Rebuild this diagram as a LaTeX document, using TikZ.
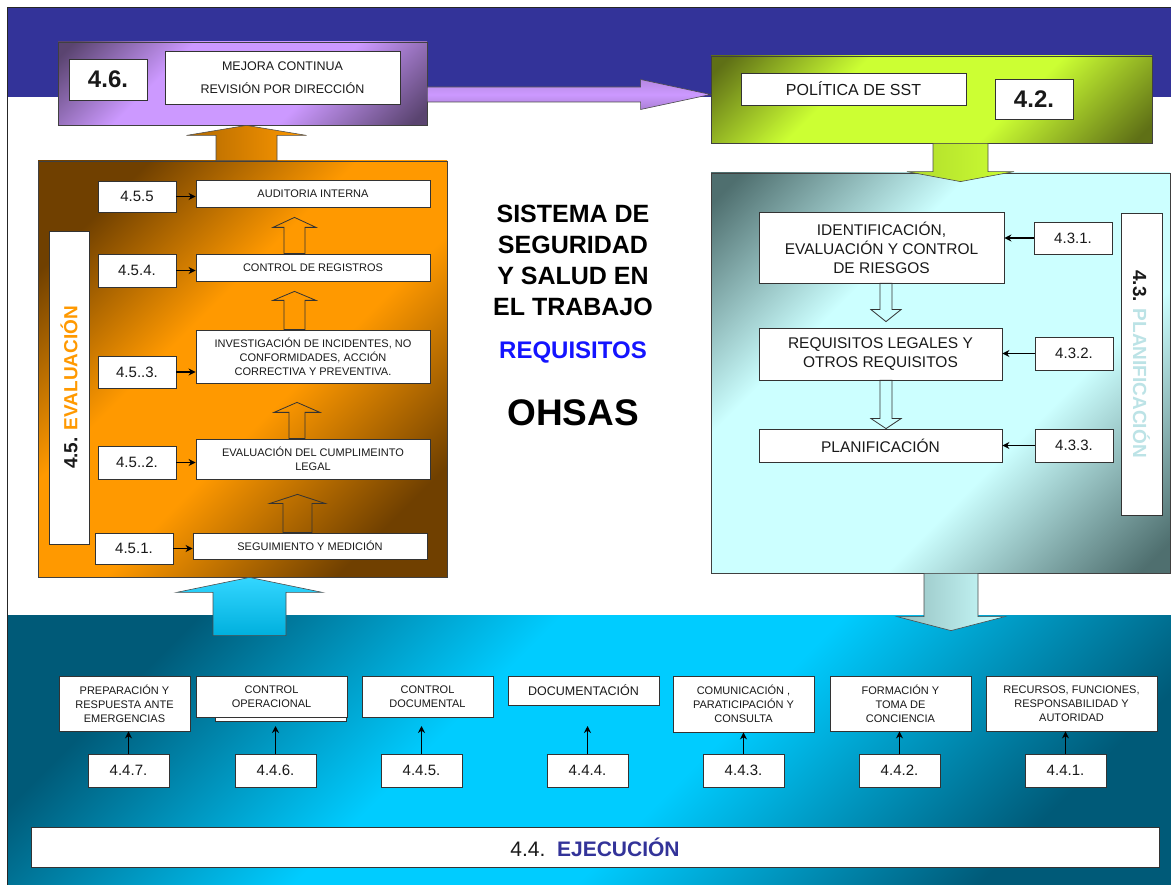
\documentclass[tikz,border=0pt]{standalone}
\usepackage{fontspec}
\setmainfont{Liberation Sans}
\usetikzlibrary{calc, arrows.meta}

\definecolor{BandBlue}{HTML}{333399}
\definecolor{PurpleDark}{HTML}{5A4470}
\definecolor{PurpleLight}{HTML}{CC99FF}
\definecolor{GreenDark}{HTML}{5F7016}
\definecolor{GreenLight}{HTML}{CCFF33}
\definecolor{OrangeDark}{HTML}{704000}
\definecolor{OrangeLight}{HTML}{FF9900}
\definecolor{SlateDark}{HTML}{4F6F6F}
\definecolor{SlateLight}{HTML}{CCFFFF}
\definecolor{TealDark}{HTML}{005A78}
\definecolor{TealLight}{HTML}{00CCFF}
\definecolor{ReqBlue}{HTML}{1414FF}
\definecolor{PlanCyan}{HTML}{BCE3E6}

% Diagonal dark-light-dark fill of the panels.
\newcommand{\panelshading}[3]{%
  \pgfdeclarehorizontalshading{#1}{100bp}{color(0bp)=(#2); color(24bp)=(#2);
    color(42bp)=(#3); color(56bp)=(#3); color(76bp)=(#2); color(100bp)=(#2)}}
\newcommand{\wideshading}[3]{%
  \pgfdeclarehorizontalshading{#1}{100bp}{color(0bp)=(#2); color(17bp)=(#2);
    color(36bp)=(#3); color(62bp)=(#3); color(83bp)=(#2); color(100bp)=(#2)}}
\wideshading{PurpleShade}{PurpleDark}{PurpleLight}
\wideshading{GreenShade}{GreenDark}{GreenLight}
\panelshading{OrangeShade}{OrangeDark}{OrangeLight}
\wideshading{SlateShade}{SlateDark}{SlateLight}
\panelshading{TealShade}{TealDark}{TealLight}

% Block arrow: [style]{tail}{tip}{shaft half width}{head half width}{head length}.
\newcommand{\blockarrow}[6][]{%
  \coordinate (ArrowBase) at ($(#3)!#6!(#2)$);
  \path [#1] ($(#2)!#4!90:(#3)$) -- ($(ArrowBase)!#4!-90:(#2)$)
    -- ($(ArrowBase)!#5!-90:(#2)$) -- (#3)
    -- ($(ArrowBase)!#5!90:(#2)$) -- ($(ArrowBase)!#4!90:(#2)$)
    -- ($(#2)!#4!-90:(#3)$) -- cycle;}

\begin{document}
\begin{tikzpicture}[x=1pt, y=-1pt,
    box/.style = {rectangle, draw=black!80, line width=0.8pt, fill=white,
                  inner sep=0pt, align=center, text=black!90},
    numbox/.style = {box, minimum width=78pt, minimum height=32pt,
                     font=\fontsize{15}{18}\selectfont},
    bignum/.style = {box, minimum width=78pt, minimum height=41pt,
                     font=\fontsize{24}{28}\selectfont\bfseries},
    smalltext/.style = {font=\fontsize{11}{14}\selectfont},
    midtext/.style = {font=\fontsize{15.5}{19}\selectfont},
    panel/.style = {rectangle, draw=black!75, line width=0.8pt, shade,
                    shading angle=-45, inner sep=0pt},
    hollowarrow/.style = {draw=black!80, line width=0.8pt},
    solidarrow/.style = {draw=black!70, line width=0.6pt},
    link/.style = {->, line width=1.4pt},
    >={Stealth[length=7pt, width=7pt]}]
  \useasboundingbox (0,0) rectangle (1171,885);

  % Background bands.
  \fill [BandBlue] (7,8) rectangle (1171,97);
  \node at (589,750) [panel, shading=TealShade, draw=none,
        minimum width=1164pt, minimum height=270pt, name=EjecucionPanel] {};
  \draw [black!85, line width=1pt] (7,885) -- (7,8) -- (1171,8);

  % Panels.
  \node at (242.5,83.5) [panel, shading=PurpleShade,
        minimum width=369pt, minimum height=83pt, name=MejoraPanel] {};
  \node at (931.5,99.5) [panel, shading=GreenShade,
        minimum width=441pt, minimum height=87pt, name=PoliticaPanel] {};
  \node at (940.5,373) [panel, shading=SlateShade,
        minimum width=459pt, minimum height=400pt, name=PlanificacionPanel] {};
  \node at (242.5,369) [panel, shading=OrangeShade,
        minimum width=409pt, minimum height=416pt, name=EvaluacionPanel] {};

  % Block arrows between the panels.
  \coordinate (PurpleTail) at ([yshift=-11pt]MejoraPanel.east);
  \coordinate (PurpleTip) at (PurpleTail -| PoliticaPanel.west);
  \blockarrow[solidarrow, top color=PurpleLight!80!PurpleDark,
              bottom color=PurpleLight!70!PurpleDark, middle color=PurpleLight]
             {PurpleTail}{PurpleTip}{7.5pt}{15pt}{70pt}
  \coordinate (GreenTail) at ([xshift=29pt]PoliticaPanel.south);
  \coordinate (GreenTip) at ($(GreenTail |- PlanificacionPanel.north)+(0,9)$);
  \blockarrow[solidarrow, left color=GreenLight!75!GreenDark, right color=GreenLight]
             {GreenTail}{GreenTip}{27.5pt}{53.5pt}{10pt}
  \coordinate (PaleTail) at ([xshift=10.5pt]PlanificacionPanel.south);
  \coordinate (PaleTip) at ($(PaleTail |- EjecucionPanel.north)+(0,16)$);
  \blockarrow[solidarrow, left color=SlateDark!45!SlateLight, right color=SlateLight]
             {PaleTail}{PaleTip}{27pt}{54pt}{14pt}
  \coordinate (OrangeTail) at ([xshift=4pt]EvaluacionPanel.north);
  \coordinate (OrangeTip) at (OrangeTail |- MejoraPanel.south);
  \blockarrow[solidarrow, left color=OrangeDark!55!OrangeLight, right color=OrangeLight]
             {OrangeTail}{OrangeTip}{30.5pt}{60pt}{10pt}
  \coordinate (CyanTip) at ([xshift=7pt]EvaluacionPanel.south);
  \coordinate (CyanTail) at ($(CyanTip |- EjecucionPanel.north)+(0,21)$);
  \blockarrow[solidarrow, top color=TealLight!80!white,
              bottom color=TealLight!75!TealDark]
             {CyanTail}{CyanTip}{36.5pt}{73pt}{15pt}

  % 4.6 and 4.2.
  \node at (108,79.5) [bignum, name=N46] {4.6.};
  \node at (282.5,77.5) [box, minimum width=235pt, minimum height=53pt,
        font=\fontsize{12.5}{23}\selectfont, name=Mejora]
        {MEJORA CONTINUA\\REVISIÓN POR DIRECCIÓN};
  \node at (853.5,89) [box, minimum width=225pt, minimum height=32pt,
        font=\fontsize{16}{19}\selectfont, name=Politica] {POLÍTICA DE SST};
  \node at (1034,99) [bignum, minimum height=40pt, name=N42] {4.2.};

  % 4.3 Planificacion.
  \node at (881.5,247.5) [box, midtext, minimum width=245pt, minimum height=71pt,
        name=Riesgos] {IDENTIFICACIÓN,\\EVALUACIÓN Y CONTROL\\DE RIESGOS};
  \node at (880.5,354) [box, midtext, minimum width=243pt, minimum height=52pt,
        name=Legales] {REQUISITOS LEGALES Y\\OTROS REQUISITOS};
  \node at (880.5,445.5) [box, midtext, minimum width=243pt, minimum height=33pt,
        name=Planif] {PLANIFICACIÓN};
  \node at (1073,238) [numbox, name=N431] {4.3.1.};
  \node at (1074,353.5) [numbox, minimum height=33pt, name=N432] {4.3.2.};
  \node at (1074,445.5) [numbox, minimum height=33pt, name=N433] {4.3.3.};
  \node at (1141.5,364) [box, rotate=-90, minimum width=302pt, minimum height=41pt,
        font=\fontsize{19}{22}\selectfont\bfseries, name=PlanificacionLabel]
        {4.3. \textcolor{PlanCyan}{PLANIFICACIÓN}};

  \draw [link] (N431) to (N431 -| Riesgos.east);
  \draw [link] (N432) to (N432 -| Legales.east);
  \draw [link] (N433) to (N433 -| Planif.east);

  \coordinate (Down1Tail) at ([xshift=4.5pt]Riesgos.south);
  \coordinate (Down1Tip) at ($(Down1Tail |- Legales.north)+(0,-6)$);
  \blockarrow[hollowarrow]{Down1Tail}{Down1Tip}{6pt}{15pt}{12pt}
  \coordinate (Down2Tail) at ([xshift=5.5pt]Legales.south);
  \coordinate (Down2Tip) at (Down2Tail |- Planif.north);
  \blockarrow[hollowarrow]{Down2Tail}{Down2Tip}{6pt}{15pt}{10pt}

  % 4.5 Evaluacion.
  \node at (313,193.5) [box, smalltext, minimum width=234pt, minimum height=27pt,
        name=Auditoria] {AUDITORIA INTERNA};
  \node at (313,267.5) [box, smalltext, minimum width=234pt, minimum height=27pt,
        name=Registros] {CONTROL DE REGISTROS};
  \node at (313,356.5) [box, smalltext, minimum width=234pt, minimum height=53pt,
        name=Incidentes]
        {INVESTIGACIÓN DE INCIDENTES, NO\\CONFORMIDADES, ACCIÓN\\CORRECTIVA Y PREVENTIVA.};
  \node at (313,459) [box, smalltext, minimum width=234pt, minimum height=40pt,
        name=Cumplimiento] {EVALUACIÓN DEL CUMPLIMEINTO\\LEGAL};
  \node at (310,546) [box, smalltext, minimum width=234pt, minimum height=26pt,
        name=Seguimiento] {SEGUIMIENTO Y MEDICIÓN};
  \node at (137,196.5) [numbox, minimum height=31pt, name=N455] {4.5.5};
  \node at (137,270.5) [numbox, minimum height=33pt, name=N454] {4.5.4.};
  \node at (137,372) [numbox, name=N453] {4.5..3.};
  \node at (137,462.5) [numbox, minimum height=33pt, name=N452] {4.5..2.};
  \node at (134,548.5) [numbox, minimum height=31pt, name=N451] {4.5.1.};
  \node at (69,387.5) [box, rotate=90, minimum width=313pt, minimum height=40pt,
        font=\fontsize{19}{22}\selectfont\bfseries, name=EvaluacionLabel]
        {4.5. \textcolor{OrangeLight}{EVALUACIÓN}};

  \draw [link] (N455) to (N455 -| Auditoria.west);
  \draw [link] (N454) to (N454 -| Registros.west);
  \draw [link] (N453) to (N453 -| Incidentes.west);
  \draw [link] (N452) to (N452 -| Cumplimiento.west);
  \draw [link] (N451) to (N451 -| Seguimiento.west);

  \coordinate (Up1Tail) at ([xshift=-18.5pt]Registros.north);
  \coordinate (Up1Tip) at ($(Up1Tail |- Auditoria.south)+(0,10)$);
  \blockarrow[hollowarrow]{Up1Tail}{Up1Tip}{10.5pt}{21.5pt}{10pt}
  \coordinate (Up2Tail) at ([xshift=-18.5pt]Incidentes.north);
  \coordinate (Up2Tip) at ($(Up2Tail |- Registros.south)+(0,10)$);
  \blockarrow[hollowarrow]{Up2Tail}{Up2Tip}{10.5pt}{21.5pt}{9pt}
  \coordinate (Up3Tail) at ([xshift=-16pt]Cumplimiento.north);
  \coordinate (Up3Tip) at ($(Up3Tail |- Incidentes.south)+(0,19)$);
  \blockarrow[hollowarrow]{Up3Tail}{Up3Tip}{8pt}{23pt}{10pt}
  \coordinate (Up4Tail) at ([xshift=-12.5pt]Seguimiento.north);
  \coordinate (Up4Tip) at ($(Up4Tail |- Cumplimiento.south)+(0,15)$);
  \blockarrow[hollowarrow]{Up4Tail}{Up4Tip}{14.5pt}{27.5pt}{9pt}

  % Title.
  \node at (573,260) [align=center, font=\fontsize{25}{31}\selectfont\bfseries,
        name=Titulo] {SISTEMA DE\\SEGURIDAD\\Y SALUD EN\\EL TRABAJO};
  \node at (573,352) [font=\fontsize{24}{28}\selectfont\bfseries, text=ReqBlue,
        name=Requisitos] {REQUISITOS};
  \node at (573,413) [font=\fontsize{37}{40}\selectfont\bfseries,
        name=Ohsas] {OHSAS};

  % 4.4 Ejecucion.
  \node at (280.5,700.5) [box, minimum width=131pt, minimum height=41pt,
        name=OperacionalBack] {};
  \node at (124.5,703.5) [box, smalltext, minimum width=131pt, minimum height=55pt,
        name=Emergencias] {PREPARACIÓN Y\\RESPUESTA ANTE\\EMERGENCIAS};
  \node at (271.5,696.5) [box, smalltext, minimum width=151pt, minimum height=41pt,
        name=Operacional] {CONTROL\\OPERACIONAL};
  \node at (427.5,696.5) [box, smalltext, minimum width=131pt, minimum height=41pt,
        name=Documental] {CONTROL\\DOCUMENTAL};
  \node at (583.5,690.5) [box, minimum width=151pt, minimum height=29pt,
        font=\fontsize{12.5}{15}\selectfont, name=Documentacion] {DOCUMENTACIÓN};
  \node at (743.5,704) [box, smalltext, minimum width=141pt, minimum height=56pt,
        name=Comunicacion] {COMUNICACIÓN ,\\PARATICIPACIÓN Y\\CONSULTA};
  \node at (900.5,703.5) [box, smalltext, minimum width=141pt, minimum height=55pt,
        name=Formacion] {FORMACIÓN Y\\TOMA DE\\CONCIENCIA};
  \node at (1071.5,703.5) [box, smalltext, minimum width=171pt, minimum height=55pt,
        name=Recursos] {RECURSOS, FUNCIONES,\\RESPONSABILIDAD Y\\AUTORIDAD};

  \node at (128.5,770.5) [numbox, minimum width=81pt, minimum height=33pt, name=N447] {4.4.7.};
  \node at (275.5,770.5) [numbox, minimum width=81pt, minimum height=33pt, name=N446] {4.4.6.};
  \node at (421.5,770.5) [numbox, minimum width=81pt, minimum height=33pt, name=N445] {4.4.5.};
  \node at (587.5,770.5) [numbox, minimum width=81pt, minimum height=33pt, name=N444] {4.4.4.};
  \node at (743.5,770.5) [numbox, minimum width=81pt, minimum height=33pt, name=N443] {4.4.3.};
  \node at (899.5,770.5) [numbox, minimum width=81pt, minimum height=33pt, name=N442] {4.4.2.};
  \node at (1065.5,770.5) [numbox, minimum width=81pt, minimum height=33pt, name=N441] {4.4.1.};

  \coordinate (ArrowTips) at (0,726);
  \draw [link] (N447) to (N447 |- Emergencias.south);
  \draw [link] (N446) to (N446 |- ArrowTips);
  \draw [link] (N445) to (N445 |- ArrowTips);
  \draw [link] (N444) to (N444 |- ArrowTips);
  \draw [link] (N443) to (N443 |- Comunicacion.south);
  \draw [link] (N442) to (N442 |- Formacion.south);
  \draw [link] (N441) to (N441 |- Recursos.south);

  \node at (595,847) [box, minimum width=1128pt, minimum height=40pt,
        font=\fontsize{21}{24}\selectfont, name=EjecucionLabel]
        {4.4.~~\textcolor{BandBlue}{\bfseries EJECUCIÓN}};
\end{tikzpicture}
\end{document}
